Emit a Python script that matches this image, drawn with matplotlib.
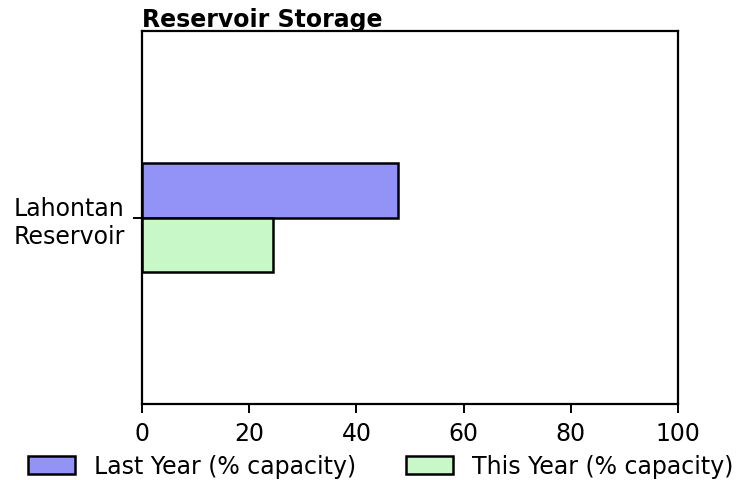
import matplotlib
matplotlib.use("Agg")
import matplotlib.pyplot as plt
import numpy as np

categories = ["Lahontan\nReservoir"]
last_year = [47.8]
this_year = [24.4]
series_labels = ["Last Year (% capacity)", "This Year (% capacity)"]
xticks = [0, 20, 40, 60, 80, 100]

fig = plt.figure(figsize=(7.54, 4.81), dpi=100)
ax = fig.add_axes([142/754, 1-405/481, (678-142)/754, (405-32)/481])

y = np.arange(len(categories))
h = 0.4
ax.barh(y + h/2, last_year, height=h, color="#9393f7", edgecolor="black", linewidth=1.8, label=series_labels[0])
ax.barh(y - h/2, this_year, height=h, color="#c8f8c8", edgecolor="black", linewidth=1.8, label=series_labels[1])

ax.set_xlim(0, 100)
ax.set_ylim(-1.38, 1.38)
ax.set_xticks(xticks)
ax.set_yticks(y)
ax.set_yticklabels(categories, fontsize=17)
for t in ax.get_yticklabels():
    t.set_multialignment("center")
ax.tick_params(axis="x", labelsize=17, length=6.5, width=1.4, pad=6)
ax.tick_params(axis="y", length=6.5, width=1.4, pad=6)
for s in ax.spines.values():
    s.set_linewidth(1.6)

ax.set_title("Reservoir Storage", loc="left", fontsize=17, fontweight="bold", pad=1.5)

fig.legend(loc="lower center", bbox_to_anchor=(0.505, -0.04), ncol=2, frameon=False,
           fontsize=17, handlelength=2.0, handleheight=0.8, handletextpad=0.8, columnspacing=2.1)

fig.savefig("out.png", dpi=100)
